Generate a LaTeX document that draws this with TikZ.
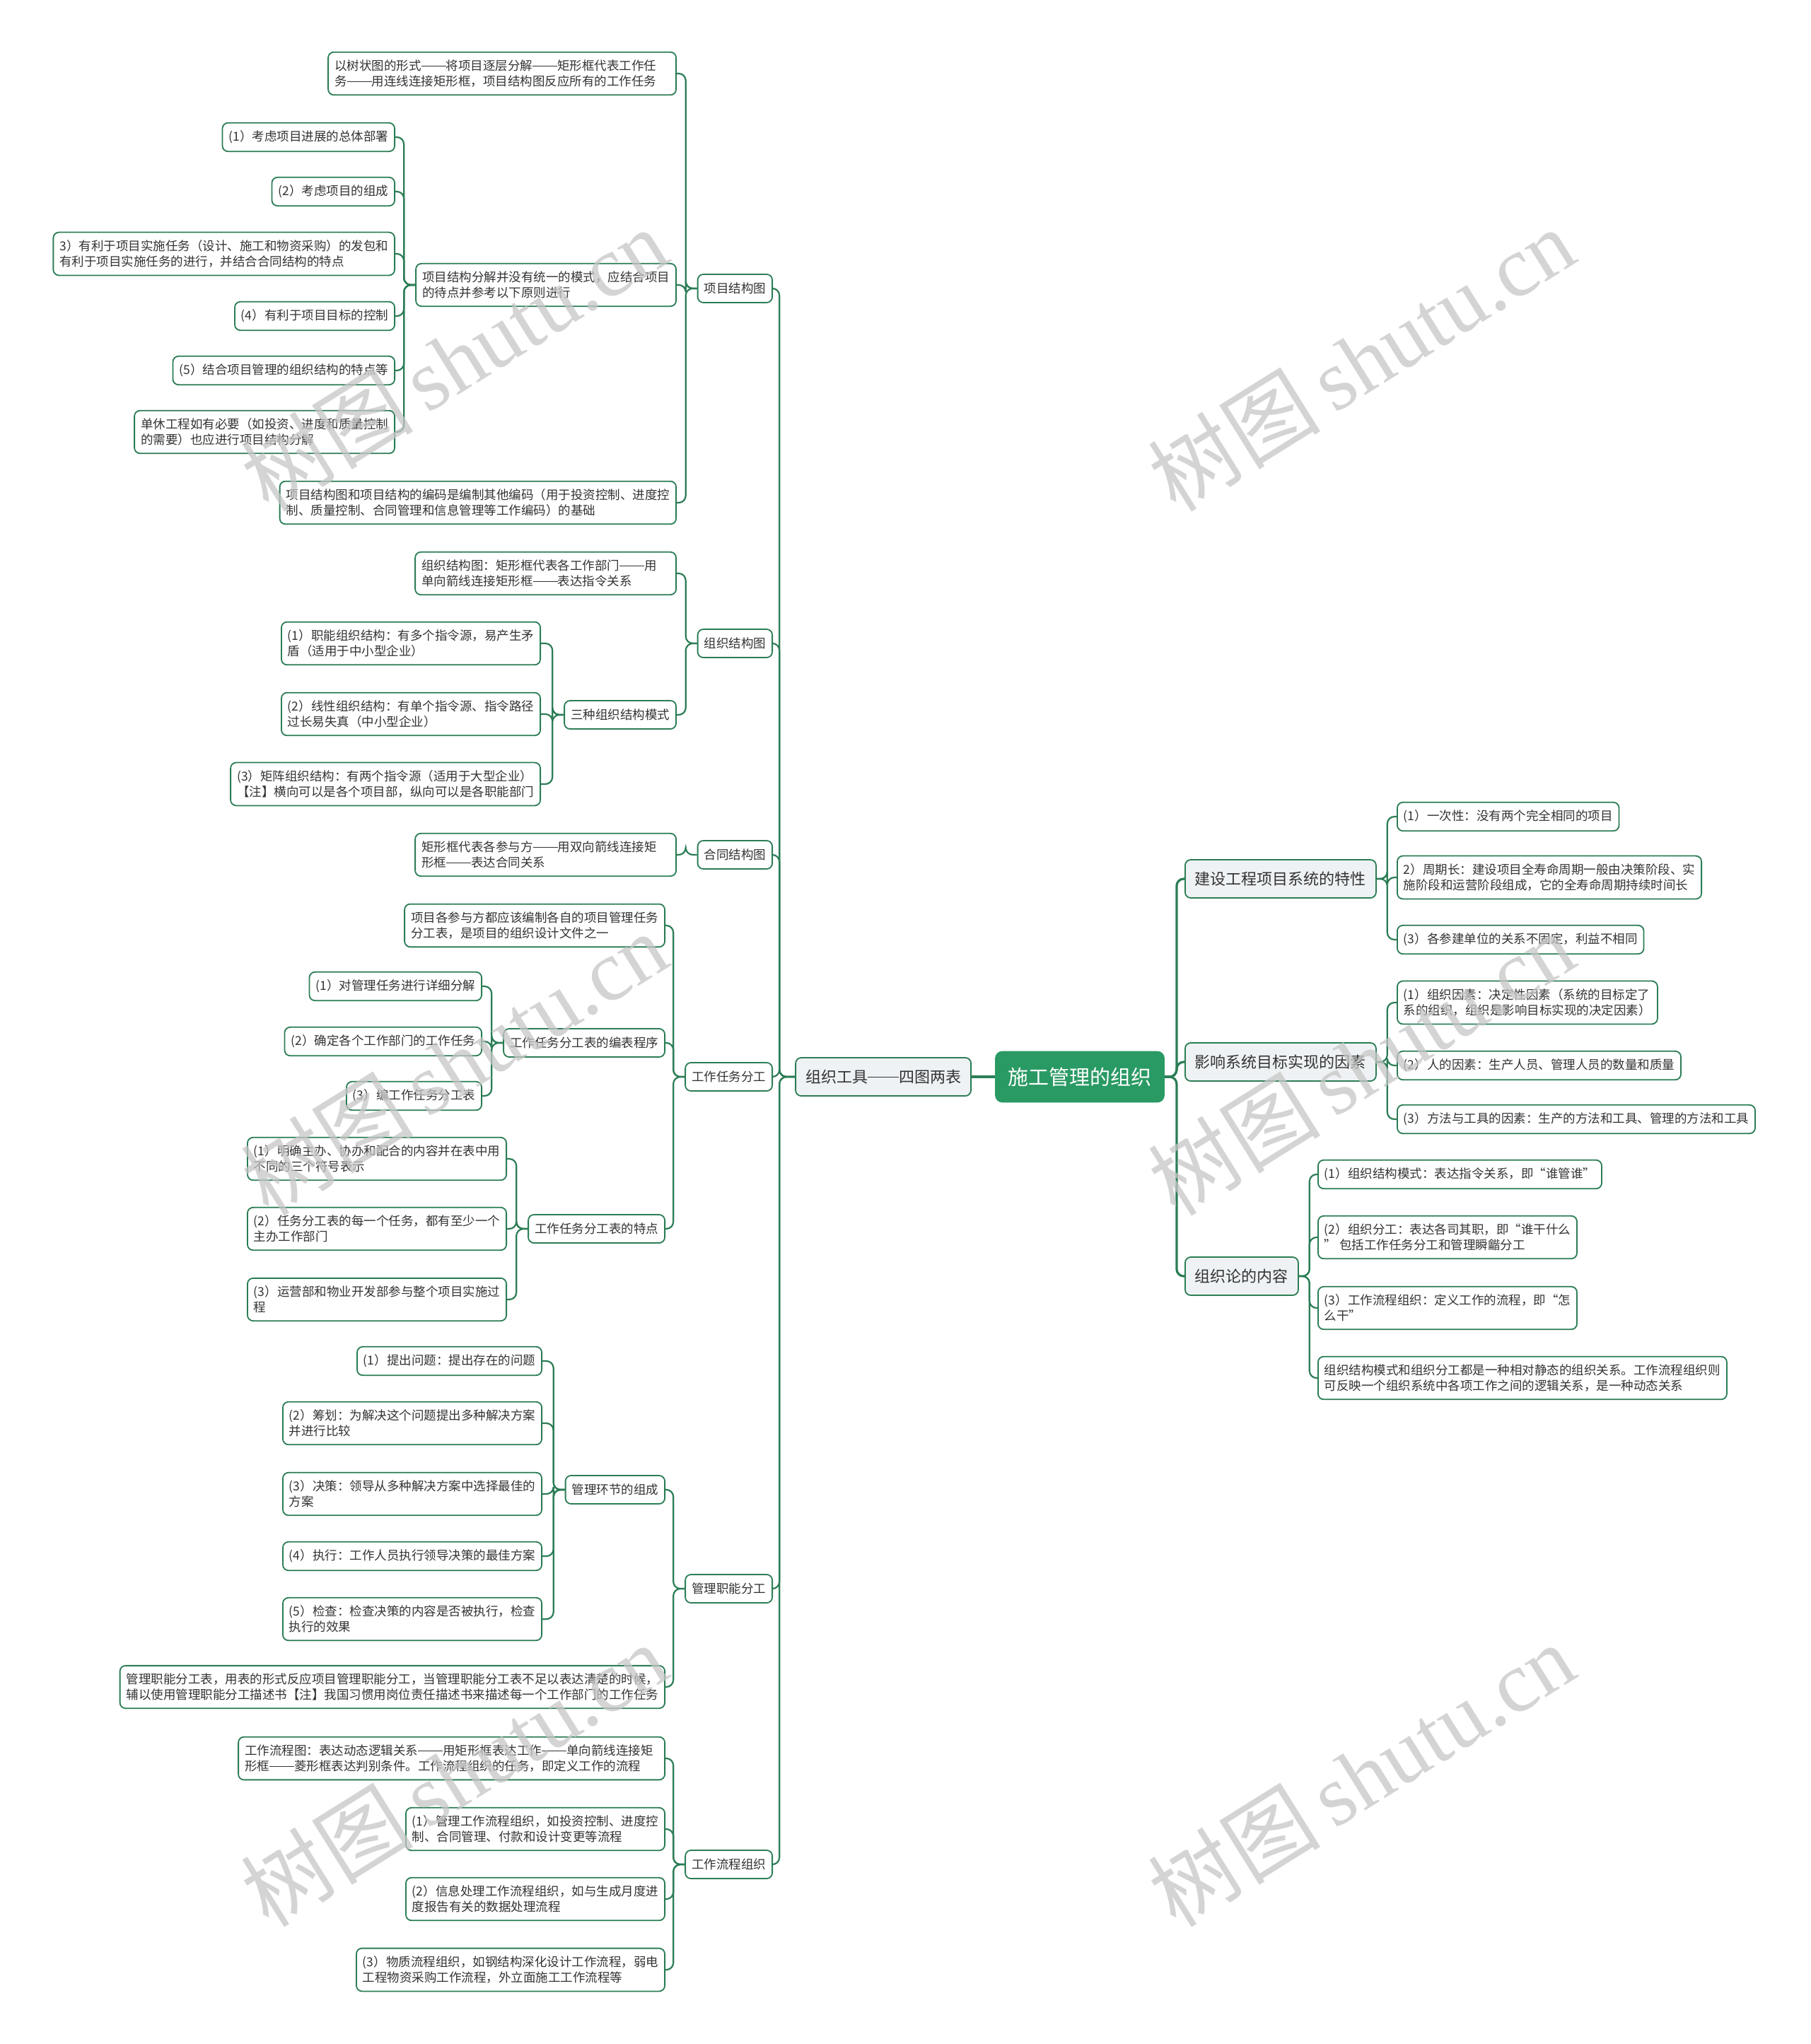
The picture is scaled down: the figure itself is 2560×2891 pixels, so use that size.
\documentclass[tikz,border=0pt]{standalone}
\usepackage{fontspec}
\setmainfont{Noto Sans CJK SC}
\newfontfamily\wmserif{Liberation Serif}
\newcommand\dd{\makebox[2em]{\rule[0.33em]{2em}{0.055em}}}
\definecolor{lc}{HTML}{2B7D55}
\definecolor{rootc}{HTML}{2A9A64}
\definecolor{lonefill}{HTML}{EEF2F4}
\definecolor{txt}{HTML}{333333}
\begin{document}
\begin{tikzpicture}[x=0.5pt,y=-0.5pt,
  leaf/.style={draw=lc, line width=0.9pt, fill=white, rounded corners=4pt, inner xsep=4.5pt, inner ysep=5.5pt, minimum height=20pt, align=left, text=txt, font=\fontsize{8.75pt}{11pt}\selectfont},
  lone/.style={leaf, fill=lonefill, font=\fontsize{11pt}{13pt}\selectfont, inner xsep=7pt, minimum height=27pt},
  rootn/.style={fill=rootc, draw=rootc, rounded corners=5pt, text=white, font=\fontsize{14.5pt}{16pt}\selectfont, inner xsep=9pt, minimum height=36pt},
  conn/.style={draw=lc, line width=1.1pt, rounded corners=5pt},
  conn0/.style={draw=lc, line width=1.6pt, rounded corners=5pt},
  wm/.style={text=gray!45, opacity=0.75, font=\fontsize{61pt}{61pt}\selectfont, inner sep=0pt}]
\useasboundingbox (0,0) rectangle (2560,2891);
\fill[white] (0,0) rectangle (2560,2891);

% root and level 1
\node[rootn] (root) at (1527,1523) {施工管理的组织};
\node[lone, anchor=east] (L) at (1374,1523) {组织工具\dd 四图两表};
\node[lone, anchor=west] (R1) at (1675,1243) {建设工程项目系统的特性};
\node[lone, anchor=west] (R2) at (1675,1502) {影响系统目标实现的因素};
\node[lone, anchor=west] (R3) at (1675,1805) {组织论的内容};

% right leaves
\node[leaf, anchor=west] (R1a) at (1975,1155) {(1）一次性：没有两个完全相同的项目};
\node[leaf, anchor=west] (R1b) at (1975,1241) {2）周期长：建设项目全寿命周期一般由决策阶段、实\\施阶段和运营阶段组成，它的全寿命周期持续时间长};
\node[leaf, anchor=west] (R1c) at (1975,1329) {(3）各参建单位的关系不固定，利益不相同};
\node[leaf, anchor=west] (R2a) at (1975,1418) {(1）组织因素：决定性因素（系统的目标定了\\系的组织，组织是影响目标实现的决定因素）};
\node[leaf, anchor=west] (R2b) at (1975,1507) {(2）人的因素：生产人员、管理人员的数量和质量};
\node[leaf, anchor=west] (R2c) at (1975,1583) {(3）方法与工具的因素：生产的方法和工具、管理的方法和工具};
\node[leaf, anchor=west] (R3a) at (1863,1661) {(1）组织结构模式：表达指令关系，即“谁管谁”};
\node[leaf, anchor=west] (R3b) at (1863,1750) {(2）组织分工：表达各司其职，即“谁干什么\\” 包括工作任务分工和管理瞬龤分工};
\node[leaf, anchor=west] (R3c) at (1863,1850) {(3）工作流程组织：定义工作的流程，即“怎\\么干”};
\node[leaf, anchor=west] (R3d) at (1863,1949) {组织结构模式和组织分工都是一种相对静态的组织关系。工作流程组织则\\可反映一个组织系统中各项工作之间的逻辑关系，是一种动态关系};

% left level 2
\node[leaf, anchor=east] (A) at (1093,408) {项目结构图};
\node[leaf, anchor=east] (B) at (1093,910) {组织结构图};
\node[leaf, anchor=east] (C) at (1093,1209) {合同结构图};
\node[leaf, anchor=east] (D) at (1093,1523) {工作任务分工};
\node[leaf, anchor=east] (E) at (1093,2247) {管理职能分工};
\node[leaf, anchor=east] (F) at (1093,2637) {工作流程组织};

% A subtree
\node[leaf, anchor=east, text width=237pt] (A1) at (957,104) {以树状图的形式\dd 将项目逐层分解\dd 矩形框代表工作任\\务\dd 用连线连接矩形框，项目结构图反应所有的工作任务};
\node[leaf, anchor=east] (A2) at (957,403) {项目结构分解并没有统一的模式，应结合项目\\的待点并参考以下原则进行};
\node[leaf, anchor=east] (A3) at (957,711) {项目结构图和项目结构的编码是编制其他编码（用于投资控制、进度控\\制、质量控制、合同管理和信息管理等工作编码）的基础};
\node[leaf, anchor=east] (A2a) at (559,194) {(1）考虑项目进展的总体部署};
\node[leaf, anchor=east] (A2b) at (559,271) {(2）考虑项目的组成};
\node[leaf, anchor=east] (A2c) at (559,359) {3）有利于项目实施任务（设计、施工和物资采购）的发包和\\有利于项目实施任务的进行，并结合合同结构的特点};
\node[leaf, anchor=east] (A2d) at (559,447) {(4）有利于项目目标的控制};
\node[leaf, anchor=east] (A2e) at (559,524) {(5）结合项目管理的组织结构的特点等};
\node[leaf, anchor=east] (A2f) at (559,611) {单休工程如有必要（如投资、进度和质量控制\\的需要）也应进行项目结构分解};

% B subtree
\node[leaf, anchor=east, text width=175.5pt] (B1) at (957,811) {组织结构图：矩形框代表各工作部门\dd 用\\单向箭线连接矩形框\dd 表达指令关系};
\node[leaf, anchor=east] (B2) at (957,1011) {三种组织结构模式};
\node[leaf, anchor=east] (B2a) at (765,910) {(1）职能组织结构：有多个指令源，易产生矛\\盾（适用于中小型企业）};
\node[leaf, anchor=east] (B2b) at (765,1010) {(2）线性组织结构：有单个指令源、指令路径\\过长易失真（中小型企业）};
\node[leaf, anchor=east] (B2c) at (765,1109) {(3）矩阵组织结构：有两个指令源（适用于大型企业）\\【注】横向可以是各个项目部，纵向可以是各职能部门};

% C subtree
\node[leaf, anchor=east, text width=175.5pt] (C1) at (957,1209) {矩形框代表各参与方\dd 用双向箭线连接矩\\形框\dd 表达合同关系};

% D subtree
\node[leaf, anchor=east] (D1) at (941,1309) {项目各参与方都应该编制各自的项目管理任务\\分工表，是项目的组织设计文件之一};
\node[leaf, anchor=east] (D2) at (941,1475) {工作任务分工表的编表程序};
\node[leaf, anchor=east] (D3) at (941,1738) {工作任务分工表的特点};
\node[leaf, anchor=east] (D2a) at (682,1395) {(1）对管理任务进行详细分解};
\node[leaf, anchor=east] (D2b) at (682,1473) {(2）确定各个工作部门的工作任务};
\node[leaf, anchor=east] (D2c) at (682,1550) {(3）编工作任务分工表};
\node[leaf, anchor=east] (D3a) at (717,1639) {(1）明确主办、协办和配合的内容并在表中用\\不同的三个符号表示};
\node[leaf, anchor=east] (D3b) at (717,1738) {(2）任务分工表的每一个任务，都有至少一个\\主办工作部门};
\node[leaf, anchor=east] (D3c) at (717,1838) {(3）运营部和物业开发部参与整个项目实施过\\程};

% E subtree
\node[leaf, anchor=east] (E1) at (941,2107) {管理环节的组成};
\node[leaf, anchor=east] (E2) at (941,2386) {管理职能分工表，用表的形式反应项目管理职能分工，当管理职能分工表不足以表达清楚的时候，\\辅以使用管理职能分工描述书【注】我国习惯用岗位责任描述书来描述每一个工作部门的工作任务};
\node[leaf, anchor=east] (E1a) at (767,1925) {(1）提出问题：提出存在的问题};
\node[leaf, anchor=east] (E1b) at (767,2013) {(2）筹划：为解决这个问题提出多种解决方案\\并进行比较};
\node[leaf, anchor=east] (E1c) at (767,2113) {(3）决策：领导从多种解决方案中选择最佳的\\方案};
\node[leaf, anchor=east] (E1d) at (767,2201) {(4）执行：工作人员执行领导决策的最佳方案};
\node[leaf, anchor=east] (E1e) at (767,2290) {(5）检查：检查决策的内容是否被执行，检查\\执行的效果};

% F subtree
\node[leaf, anchor=east, text width=292.5pt] (F1) at (941,2487) {工作流程图：表达动态逻辑关系\dd 用矩形框表达工作\dd 单向箭线连接矩\\形框\dd 菱形框表达判别条件。工作流程组织的任务，即定义工作的流程};
\node[leaf, anchor=east] (F2) at (941,2587) {(1）管理工作流程组织，如投资控制、进度控\\制、合同管理、付款和设计变更等流程};
\node[leaf, anchor=east] (F3) at (941,2686) {(2）信息处理工作流程组织，如与生成月度进\\度报告有关的数据处理流程};
\node[leaf, anchor=east] (F4) at (941,2786) {(3）物质流程组织，如钢结构深化设计工作流程，弱电\\工程物资采购工作流程，外立面施工工作流程等};

% connectors
\draw[conn0] (root.west) -- (L.east);
\foreach \c in {R1,R2,R3} \draw[conn0] (root.east) -- ++(17,0) |- (\c.west);
\foreach \c in {A,B,C,D,E,F} \draw[conn] (L.west) -- ++(-22,0) |- (\c.east);
\foreach \p/\c in {R1/R1a,R1/R1b,R1/R1c,R2/R2a,R2/R2b,R2/R2c,R3/R3a,R3/R3b,R3/R3c,R3/R3d}
  \draw[conn] (\p.east) -- ++(15,0) |- (\c.west);
\foreach \p/\c in {A/A1,A/A2,A/A3,A2/A2a,A2/A2b,A2/A2c,A2/A2d,A2/A2e,A2/A2f,
  B/B1,B/B2,B2/B2a,B2/B2b,B2/B2c,C/C1,D/D1,D/D2,D/D3,D2/D2a,D2/D2b,D2/D2c,
  D3/D3a,D3/D3b,D3/D3c,E/E1,E/E2,E1/E1a,E1/E1b,E1/E1c,E1/E1d,E1/E1e,
  F/F1,F/F2,F/F3,F/F4}
  \draw[conn] (\p.west) -- ++(-16,0) |- (\c.east);

% watermarks
\foreach \wx/\wy in {642/508, 1925/508, 642/1504, 1925/1504, 642/2510, 1925/2510}
  \node[wm, rotate=32] at (\wx,\wy) {树图\,{\wmserif shutu.cn}};
\end{tikzpicture}
\end{document}
